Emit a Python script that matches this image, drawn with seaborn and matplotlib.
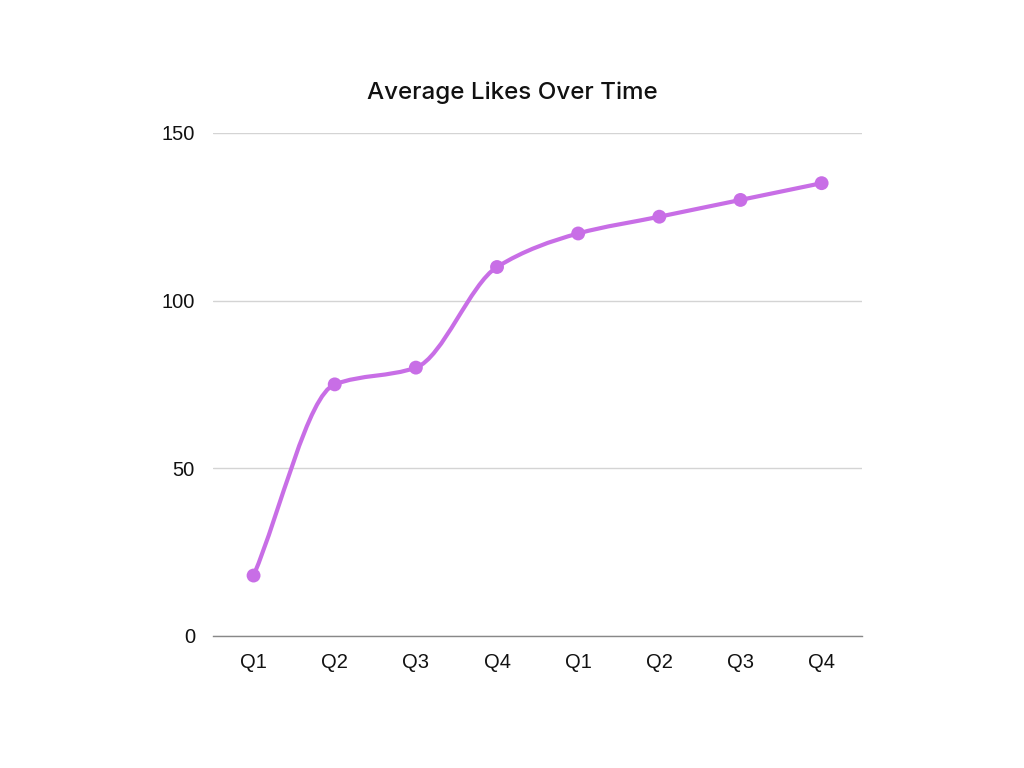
import numpy as np
import pandas as pd
import matplotlib
matplotlib.use('Agg')
import matplotlib.pyplot as plt
from matplotlib.path import Path
from matplotlib.patches import PathPatch
import seaborn as sns

# Data
quarters = ['Q1', 'Q2', 'Q3', 'Q4', 'Q1', 'Q2', 'Q3', 'Q4']
avg_likes = [18, 75, 80, 110, 120, 125, 130, 135]
y_ticks = [0, 50, 100, 150]

LINE = '#c86ee6'

sns.set_theme(style='white')
plt.rcParams['font.family'] = ['Liberation Sans', 'DejaVu Sans']

df = pd.DataFrame({'pos': np.arange(len(avg_likes)), 'likes': avg_likes})

fig = plt.figure(figsize=(10.24, 7.68), dpi=100)
ax = fig.add_axes([0.208, 0.172, 0.634, 0.655])

# smooth monotone (Fritsch-Carlson) curve through the points, drawn as bezier path
x = df['pos'].to_numpy(float)
y = df['likes'].to_numpy(float)
d = np.diff(y) / np.diff(x)
m = np.empty_like(y)
m[0], m[-1] = d[0], d[-1]
for i in range(1, len(y) - 1):
    m[i] = 0 if d[i-1] * d[i] <= 0 else 2 * d[i-1] * d[i] / (d[i-1] + d[i])
verts = [(x[0], y[0])]
codes = [Path.MOVETO]
for i in range(len(x) - 1):
    h = x[i+1] - x[i]
    verts += [(x[i] + h/3, y[i] + m[i]*h/3),
              (x[i+1] - h/3, y[i+1] - m[i+1]*h/3),
              (x[i+1], y[i+1])]
    codes += [Path.CURVE4] * 3
ax.add_patch(PathPatch(Path(verts, codes), facecolor='none', edgecolor=LINE,
                       lw=3, capstyle='round', zorder=3))

sns.scatterplot(data=df, x='pos', y='likes', ax=ax, color=LINE, s=100,
                edgecolor='none', zorder=4, legend=False)

ax.set_xlim(-0.5, len(quarters) - 0.5)
ax.set_ylim(0, 150)
ax.set_xticks(df['pos'])
ax.set_xticklabels(quarters)
ax.set_yticks(y_ticks)
ax.tick_params(axis='both', length=0, labelsize=14.5, colors='#111111')
ax.tick_params(axis='x', pad=12)
ax.tick_params(axis='y', pad=13)
ax.set_xlabel('')
ax.set_ylabel('')
ax.grid(axis='y', color='#d4d4d4', lw=1)
ax.set_axisbelow(True)
for s in ['top', 'right', 'left']:
    ax.spines[s].set_visible(False)
ax.spines['bottom'].set_color('#888888')
ax.spines['bottom'].set_linewidth(1)
ax.spines['bottom'].set_zorder(2)

fig.text(0.5, 0.879, 'Average Likes Over Time', ha='center', va='center',
         fontsize=17.4, family=['Inter', 'Open Sans', 'DejaVu Sans'], fontweight='medium', color='#111111')

plt.savefig('out.png', dpi=100)
